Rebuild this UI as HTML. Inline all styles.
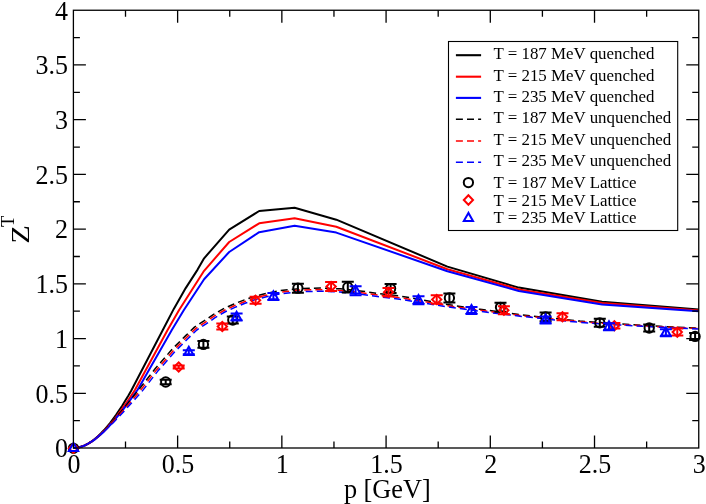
<!DOCTYPE html><html><head><meta charset="utf-8"><style>html,body{margin:0;padding:0;background:#fff}svg{display:block;will-change:transform}text{font-family:"Liberation Serif",serif;fill:#000}</style></head><body>
<svg width="706" height="504" viewBox="0 0 706 504">
<rect width="706" height="504" fill="#fff"/>
<g fill="none" stroke-width="2" stroke-linejoin="round">
<path d="M73.4 448.0 L76.4 447.8 L79.5 447.2 L82.5 446.3 L85.6 445.0 L88.6 443.3 L91.7 441.3 L94.7 439.0 L97.8 436.4 L100.8 433.5 L103.9 430.3 L106.9 426.8 L110.0 423.1 L113.0 419.1 L116.1 414.8 L119.1 410.4 L122.2 405.7 L125.2 400.8 L128.3 395.8 L131.3 390.5 L162.8 330.0 L173.8 308.9 L185.7 288.1 L197.6 269.6 L204.1 258.3 L229.2 229.7 L259.2 211.0 L294.6 207.8 L336.3 219.7 L447.4 266.6 L518.8 287.6 L602.1 301.7 L698.7 309.6" stroke="#000"/>
<path d="M73.4 448.0 L76.5 447.8 L79.6 447.2 L82.6 446.3 L85.7 445.0 L88.8 443.4 L91.9 441.4 L94.9 439.2 L98.0 436.6 L101.1 433.9 L104.2 430.8 L107.2 427.5 L110.3 424.1 L113.4 420.4 L116.5 416.5 L119.5 412.4 L122.6 408.2 L125.7 403.8 L128.8 399.3 L131.8 394.7 L134.9 390.0 L167.6 330.0 L179.1 310.0 L204.1 270.8 L229.2 242.0 L259.2 223.3 L294.6 218.2 L336.3 226.7 L447.4 269.2 L518.8 289.4 L602.1 303.0 L698.7 310.4" stroke="#f00"/>
<path d="M73.4 448.0 L76.5 447.8 L79.5 447.2 L82.6 446.3 L85.7 445.0 L88.7 443.4 L91.8 441.6 L94.9 439.4 L97.9 437.0 L101.0 434.3 L104.1 431.4 L107.1 428.3 L110.2 425.0 L113.3 421.5 L116.3 417.9 L119.4 414.2 L122.5 410.3 L125.5 406.3 L128.6 402.2 L131.7 398.0 L134.7 393.8 L137.8 389.5 L171.8 330.0 L183.9 310.0 L204.1 279.2 L229.2 252.0 L259.2 232.2 L294.6 225.7 L336.3 232.6 L447.4 271.2 L518.8 291.0 L602.1 304.4 L698.7 311.2" stroke="#00f"/>
<path d="M73.4 448.0 L76.4 447.8 L79.4 447.2 L82.4 446.3 L85.4 445.1 L88.4 443.4 L91.5 441.5 L94.5 439.3 L97.5 436.9 L100.5 434.3 L103.4 431.4 L106.4 428.4 L109.4 425.3 L112.3 422.0 L115.3 418.5 L118.2 415.0 L121.2 411.5 L124.2 407.8 L127.1 404.1 L130.1 400.4 L133.0 396.7 L136.0 393.1 L139.0 389.4 L155.1 368.8 L172.9 348.4 L186.0 335.4 L194.5 327.1 L204.0 320.9 L213.2 314.6 L223.2 308.9 L233.5 304.2 L243.8 300.1 L254.8 296.2 L265.7 293.6 L279.9 290.7 L299.9 288.5 L320.0 288.0 L340.1 288.8 L360.1 290.9 L380.1 293.7 L400.1 296.1 L420.1 299.4 L447.1 304.5 L480.1 309.3 L520.0 314.6 L550.0 318.0 L580.0 321.1 L620.0 323.9 L660.0 326.3 L698.7 328.2" stroke="#000" stroke-width="1.5" stroke-dasharray="7 4.1" stroke-dashoffset="9.1"/>
<path d="M73.4 448.0 L76.4 447.8 L79.4 447.2 L82.4 446.3 L85.4 445.1 L88.4 443.4 L91.5 441.5 L94.5 439.3 L97.5 436.9 L100.5 434.3 L103.5 431.6 L106.6 428.6 L109.7 425.5 L112.7 422.3 L115.8 419.0 L118.9 415.6 L121.9 412.1 L125.0 408.5 L128.1 404.9 L131.1 401.3 L134.2 397.7 L137.3 394.1 L140.4 390.5 L156.5 369.9 L174.2 349.7 L187.3 336.7 L195.6 328.6 L205.1 322.4 L214.1 316.1 L224.0 310.5 L234.2 305.8 L244.4 301.7 L255.3 297.8 L266.1 295.2 L280.1 292.3 L300.1 290.1 L320.0 289.6 L339.9 290.4 L359.9 292.5 L379.9 295.3 L399.9 297.7 L419.9 300.9 L446.9 305.6 L479.9 310.3 L519.9 315.4 L550.0 318.7 L580.0 321.7 L620.0 324.5 L660.0 326.8 L698.7 328.6" stroke="#f00" stroke-width="1.5" stroke-dasharray="7 4.1" stroke-dashoffset="9.1"/>
<path d="M73.4 448.0 L76.4 447.8 L79.4 447.2 L82.4 446.3 L85.4 445.1 L88.4 443.4 L91.5 441.5 L94.5 439.3 L97.5 436.9 L100.5 434.3 L103.7 431.7 L106.8 428.8 L110.0 425.8 L113.2 422.7 L116.3 419.5 L119.5 416.1 L122.7 412.7 L125.9 409.2 L129.0 405.7 L132.2 402.2 L135.4 398.7 L138.5 395.2 L141.8 391.6 L157.8 371.1 L175.6 350.9 L188.6 338.0 L196.8 330.0 L206.1 323.9 L215.1 317.7 L224.8 312.0 L234.9 307.4 L245.0 303.3 L255.7 299.4 L266.4 296.8 L280.4 293.9 L300.2 291.7 L320.0 291.2 L339.8 292.0 L359.7 294.1 L379.7 296.8 L399.7 299.2 L419.6 302.4 L446.7 306.8 L479.8 311.3 L519.9 316.2 L549.9 319.4 L579.9 322.4 L619.9 325.0 L660.0 327.3 L698.7 329.1" stroke="#00f" stroke-width="1.5" stroke-dasharray="7 4.1" stroke-dashoffset="9.1"/>
</g>
<circle cx="73.5" cy="448.3" r="4.65" stroke="#000" stroke-width="2" fill="none"/>
<path d="M165.7 379.8 V384.2 M159.7 379.8 H171.7 M159.7 384.2 H171.7" stroke="#000" stroke-width="2" fill="none"/><circle cx="165.7" cy="382.0" r="4.65" stroke="#000" stroke-width="2" fill="none"/>
<path d="M203.4 341.1 V347.7 M197.4 341.1 H209.4 M197.4 347.7 H209.4" stroke="#000" stroke-width="2" fill="none"/><circle cx="203.4" cy="344.4" r="4.65" stroke="#000" stroke-width="2" fill="none"/>
<path d="M232.8 316.5 V323.5 M226.8 316.5 H238.8 M226.8 323.5 H238.8" stroke="#000" stroke-width="2" fill="none"/><circle cx="232.8" cy="320.0" r="4.65" stroke="#000" stroke-width="2" fill="none"/>
<path d="M297.9 283.7 V292.7 M291.9 283.7 H303.9 M291.9 292.7 H303.9" stroke="#000" stroke-width="2" fill="none"/><circle cx="297.9" cy="288.2" r="4.65" stroke="#000" stroke-width="2" fill="none"/>
<path d="M347.8 281.8 V292.6 M341.8 281.8 H353.8 M341.8 292.6 H353.8" stroke="#000" stroke-width="2" fill="none"/><circle cx="347.8" cy="287.2" r="4.65" stroke="#000" stroke-width="2" fill="none"/>
<path d="M390.6 284.1 V293.1 M384.6 284.1 H396.6 M384.6 293.1 H396.6" stroke="#000" stroke-width="2" fill="none"/><circle cx="390.6" cy="288.6" r="4.65" stroke="#000" stroke-width="2" fill="none"/>
<path d="M449.4 293.4 V302.4 M443.4 293.4 H455.4 M443.4 302.4 H455.4" stroke="#000" stroke-width="2" fill="none"/><circle cx="449.4" cy="297.9" r="4.65" stroke="#000" stroke-width="2" fill="none"/>
<path d="M500.5 302.8 V311.8 M494.5 302.8 H506.5 M494.5 311.8 H506.5" stroke="#000" stroke-width="2" fill="none"/><circle cx="500.5" cy="307.3" r="4.65" stroke="#000" stroke-width="2" fill="none"/>
<path d="M545.6 312.6 V321.2 M539.6 312.6 H551.6 M539.6 321.2 H551.6" stroke="#000" stroke-width="2" fill="none"/><circle cx="545.6" cy="316.9" r="4.65" stroke="#000" stroke-width="2" fill="none"/>
<path d="M599.8 318.8 V326.8 M593.8 318.8 H605.8 M593.8 326.8 H605.8" stroke="#000" stroke-width="2" fill="none"/><circle cx="599.8" cy="322.8" r="4.65" stroke="#000" stroke-width="2" fill="none"/>
<path d="M649.2 324.5 V331.5 M643.2 324.5 H655.2 M643.2 331.5 H655.2" stroke="#000" stroke-width="2" fill="none"/><circle cx="649.2" cy="328.0" r="4.65" stroke="#000" stroke-width="2" fill="none"/>
<path d="M695.1 332.9 V339.9 M689.1 332.9 H698.8 M689.1 339.9 H698.8" stroke="#000" stroke-width="2" fill="none"/><circle cx="695.1" cy="336.4" r="4.65" stroke="#000" stroke-width="2" fill="none"/>
<path d="M73.5 443.7 L78.2 448.3 L73.5 452.9 L68.8 448.3 Z" stroke="#f00" stroke-width="2" fill="none"/>
<path d="M178.7 365.5 V368.5 M172.7 365.5 H184.7 M172.7 368.5 H184.7" stroke="#f00" stroke-width="2" fill="none"/><path d="M178.7 362.4 L183.3 367.0 L178.7 371.6 L174.0 367.0 Z" stroke="#f00" stroke-width="2" fill="none"/>
<path d="M222.3 323.5 V329.5 M216.3 323.5 H228.3 M216.3 329.5 H228.3" stroke="#f00" stroke-width="2" fill="none"/><path d="M222.3 321.9 L227.0 326.5 L222.3 331.1 L217.7 326.5 Z" stroke="#f00" stroke-width="2" fill="none"/>
<path d="M255.6 296.8 V303.8 M249.6 296.8 H261.6 M249.6 303.8 H261.6" stroke="#f00" stroke-width="2" fill="none"/><path d="M255.6 295.7 L260.2 300.3 L255.6 304.9 L250.9 300.3 Z" stroke="#f00" stroke-width="2" fill="none"/>
<path d="M331.1 282.0 V291.0 M325.1 282.0 H337.1 M325.1 291.0 H337.1" stroke="#f00" stroke-width="2" fill="none"/><path d="M331.1 281.9 L335.8 286.5 L331.1 291.1 L326.5 286.5 Z" stroke="#f00" stroke-width="2" fill="none"/>
<path d="M388.5 288.0 V296.6 M382.5 288.0 H394.5 M382.5 296.6 H394.5" stroke="#f00" stroke-width="2" fill="none"/><path d="M388.5 287.7 L393.1 292.3 L388.5 296.9 L383.9 292.3 Z" stroke="#f00" stroke-width="2" fill="none"/>
<path d="M436.7 295.2 V303.8 M430.7 295.2 H442.7 M430.7 303.8 H442.7" stroke="#f00" stroke-width="2" fill="none"/><path d="M436.7 294.9 L441.3 299.5 L436.7 304.1 L432.1 299.5 Z" stroke="#f00" stroke-width="2" fill="none"/>
<path d="M503.9 306.2 V314.2 M497.9 306.2 H509.9 M497.9 314.2 H509.9" stroke="#f00" stroke-width="2" fill="none"/><path d="M503.9 305.6 L508.5 310.2 L503.9 314.8 L499.2 310.2 Z" stroke="#f00" stroke-width="2" fill="none"/>
<path d="M562.5 313.3 V320.3 M556.5 313.3 H568.5 M556.5 320.3 H568.5" stroke="#f00" stroke-width="2" fill="none"/><path d="M562.5 312.2 L567.1 316.8 L562.5 321.4 L557.9 316.8 Z" stroke="#f00" stroke-width="2" fill="none"/>
<path d="M614.4 323.0 V328.6 M608.4 323.0 H620.4 M608.4 328.6 H620.4" stroke="#f00" stroke-width="2" fill="none"/><path d="M614.4 321.2 L619.0 325.8 L614.4 330.4 L609.8 325.8 Z" stroke="#f00" stroke-width="2" fill="none"/>
<path d="M677.3 328.6 V335.6 M671.3 328.6 H683.3 M671.3 335.6 H683.3" stroke="#f00" stroke-width="2" fill="none"/><path d="M677.3 327.5 L681.9 332.1 L677.3 336.8 L672.6 332.1 Z" stroke="#f00" stroke-width="2" fill="none"/>
<path d="M73.5 442.9 L68.8 451.0 L78.2 451.0 Z" stroke="#00f" stroke-width="2" fill="none"/>
<path d="M188.8 350.2 V354.2 M182.8 350.2 H194.8 M182.8 354.2 H194.8" stroke="#00f" stroke-width="2" fill="none"/><path d="M188.8 346.8 L184.2 354.9 L193.5 354.9 Z" stroke="#00f" stroke-width="2" fill="none"/>
<path d="M236.6 313.6 V320.6 M230.6 313.6 H242.6 M230.6 320.6 H242.6" stroke="#00f" stroke-width="2" fill="none"/><path d="M236.6 311.7 L231.9 319.8 L241.2 319.8 Z" stroke="#00f" stroke-width="2" fill="none"/>
<path d="M273.4 293.1 V300.1 M267.4 293.1 H279.4 M267.4 300.1 H279.4" stroke="#00f" stroke-width="2" fill="none"/><path d="M273.4 291.2 L268.8 299.3 L278.0 299.3 Z" stroke="#00f" stroke-width="2" fill="none"/>
<path d="M355.6 286.3 V295.3 M349.6 286.3 H361.6 M349.6 295.3 H361.6" stroke="#00f" stroke-width="2" fill="none"/><path d="M355.6 285.4 L351.0 293.5 L360.2 293.5 Z" stroke="#00f" stroke-width="2" fill="none"/>
<path d="M418.5 296.3 V304.3 M412.5 296.3 H424.5 M412.5 304.3 H424.5" stroke="#00f" stroke-width="2" fill="none"/><path d="M418.5 294.9 L413.9 303.0 L423.1 303.0 Z" stroke="#00f" stroke-width="2" fill="none"/>
<path d="M471.5 306.9 V313.9 M465.5 306.9 H477.5 M465.5 313.9 H477.5" stroke="#00f" stroke-width="2" fill="none"/><path d="M471.5 305.0 L466.9 313.1 L476.1 313.1 Z" stroke="#00f" stroke-width="2" fill="none"/>
<path d="M545.6 316.4 V323.4 M539.6 316.4 H551.6 M539.6 323.4 H551.6" stroke="#00f" stroke-width="2" fill="none"/><path d="M545.6 314.5 L541.0 322.6 L550.2 322.6 Z" stroke="#00f" stroke-width="2" fill="none"/>
<path d="M609.0 323.2 V330.2 M603.0 323.2 H615.0 M603.0 330.2 H615.0" stroke="#00f" stroke-width="2" fill="none"/><path d="M609.0 321.3 L604.4 329.4 L613.6 329.4 Z" stroke="#00f" stroke-width="2" fill="none"/>
<path d="M665.9 329.3 V336.3 M659.9 329.3 H671.9 M659.9 336.3 H671.9" stroke="#00f" stroke-width="2" fill="none"/><path d="M665.9 327.4 L661.2 335.5 L670.5 335.5 Z" stroke="#00f" stroke-width="2" fill="none"/>
<path d="M125.51 448.00 v-6.5 M125.51 10.25 v6.5 M177.62 448.00 v-12.5 M177.62 10.25 v12.5 M229.74 448.00 v-6.5 M229.74 10.25 v6.5 M281.85 448.00 v-12.5 M281.85 10.25 v12.5 M333.96 448.00 v-6.5 M333.96 10.25 v6.5 M386.08 448.00 v-12.5 M386.08 10.25 v12.5 M438.19 448.00 v-6.5 M438.19 10.25 v6.5 M490.30 448.00 v-12.5 M490.30 10.25 v12.5 M542.41 448.00 v-6.5 M542.41 10.25 v6.5 M594.52 448.00 v-12.5 M594.52 10.25 v12.5 M646.64 448.00 v-6.5 M646.64 10.25 v6.5 M73.40 420.64 h6.5 M698.75 420.64 h-6.5 M73.40 393.28 h12.5 M698.75 393.28 h-12.5 M73.40 365.92 h6.5 M698.75 365.92 h-6.5 M73.40 338.56 h12.5 M698.75 338.56 h-12.5 M73.40 311.20 h6.5 M698.75 311.20 h-6.5 M73.40 283.84 h12.5 M698.75 283.84 h-12.5 M73.40 256.48 h6.5 M698.75 256.48 h-6.5 M73.40 229.12 h12.5 M698.75 229.12 h-12.5 M73.40 201.77 h6.5 M698.75 201.77 h-6.5 M73.40 174.41 h12.5 M698.75 174.41 h-12.5 M73.40 147.05 h6.5 M698.75 147.05 h-6.5 M73.40 119.69 h12.5 M698.75 119.69 h-12.5 M73.40 92.33 h6.5 M698.75 92.33 h-6.5 M73.40 64.97 h12.5 M698.75 64.97 h-12.5 M73.40 37.61 h6.5 M698.75 37.61 h-6.5" stroke="#000" stroke-width="1.3" fill="none"/>
<rect x="73.40" y="10.25" width="625.35" height="437.75" fill="none" stroke="#000" stroke-width="1.3"/>
<text transform="translate(73.9 473.0) scale(1 1.04)" font-size="26" text-anchor="middle">0</text>
<text transform="translate(178.1 473.0) scale(1 1.04)" font-size="26" text-anchor="middle">0.5</text>
<text transform="translate(282.3 473.0) scale(1 1.04)" font-size="26" text-anchor="middle">1</text>
<text transform="translate(386.5 473.0) scale(1 1.04)" font-size="26" text-anchor="middle">1.5</text>
<text transform="translate(490.7 473.0) scale(1 1.04)" font-size="26" text-anchor="middle">2</text>
<text transform="translate(595.0 473.0) scale(1 1.04)" font-size="26" text-anchor="middle">2.5</text>
<text transform="translate(699.2 473.0) scale(1 1.04)" font-size="26" text-anchor="middle">3</text>
<text transform="translate(68 457.3) scale(1 1.04)" font-size="26" text-anchor="end">0</text>
<text transform="translate(68 402.6) scale(1 1.04)" font-size="26" text-anchor="end">0.5</text>
<text transform="translate(68 347.9) scale(1 1.04)" font-size="26" text-anchor="end">1</text>
<text transform="translate(68 293.1) scale(1 1.04)" font-size="26" text-anchor="end">1.5</text>
<text transform="translate(68 238.4) scale(1 1.04)" font-size="26" text-anchor="end">2</text>
<text transform="translate(68 183.7) scale(1 1.04)" font-size="26" text-anchor="end">2.5</text>
<text transform="translate(68 129.0) scale(1 1.04)" font-size="26" text-anchor="end">3</text>
<text transform="translate(68 74.3) scale(1 1.04)" font-size="26" text-anchor="end">3.5</text>
<text transform="translate(68 19.6) scale(1 1.04)" font-size="26" text-anchor="end">4</text>
<text transform="translate(387.3 497.5) scale(1 1.07)" font-size="26.3" text-anchor="middle">p [GeV]</text>
<g transform="translate(28.9 242.8) rotate(-90)"><text transform="translate(-0.9 0) scale(1.17 1)" x="0" y="0" font-size="26">Z</text><text x="15.9" y="-15.4" font-size="18.5">T</text></g>
<rect x="448.5" y="41.5" width="229.2" height="189" fill="#fff" stroke="#000" stroke-width="1.1"/>
<path d="M455.9 55.2 H481.1" stroke="#000" stroke-width="2.1"/>
<path d="M455.9 76.7 H481.1" stroke="#f00" stroke-width="2.1"/>
<path d="M455.9 97.9 H481.1" stroke="#00f" stroke-width="2.1"/>
<path d="M455.9 119.3 H481.1" stroke="#000" stroke-width="1.5" stroke-dasharray="7 4.1"/>
<path d="M455.9 140.9 H481.1" stroke="#f00" stroke-width="1.5" stroke-dasharray="7 4.1"/>
<path d="M455.9 162.2 H481.1" stroke="#00f" stroke-width="1.5" stroke-dasharray="7 4.1"/>
<circle cx="468.4" cy="182.6" r="4.65" stroke="#000" stroke-width="2" fill="none"/>
<path d="M468.4 195.3 L473.0 200.0 L468.4 204.7 L463.8 200.0 Z" stroke="#f00" stroke-width="2" fill="none"/>
<path d="M468.4 212.9 L463.8 221.0 L473.0 221.0 Z" stroke="#00f" stroke-width="2" fill="none"/>
<text x="493.5" y="59.1" font-size="16.9">T = 187 MeV quenched</text>
<text x="493.5" y="80.6" font-size="16.9">T = 215 MeV quenched</text>
<text x="493.5" y="101.8" font-size="16.9">T = 235 MeV quenched</text>
<text x="493.5" y="123.2" font-size="16.9">T = 187 MeV unquenched</text>
<text x="493.5" y="144.8" font-size="16.9">T = 215 MeV unquenched</text>
<text x="493.5" y="166.1" font-size="16.9">T = 235 MeV unquenched</text>
<text x="493.5" y="188.1" font-size="16.9">T = 187 MeV Lattice</text>
<text x="493.5" y="205.5" font-size="16.9">T = 215 MeV Lattice</text>
<text x="493.5" y="222.8" font-size="16.9">T = 235 MeV Lattice</text>
</svg></body></html>
